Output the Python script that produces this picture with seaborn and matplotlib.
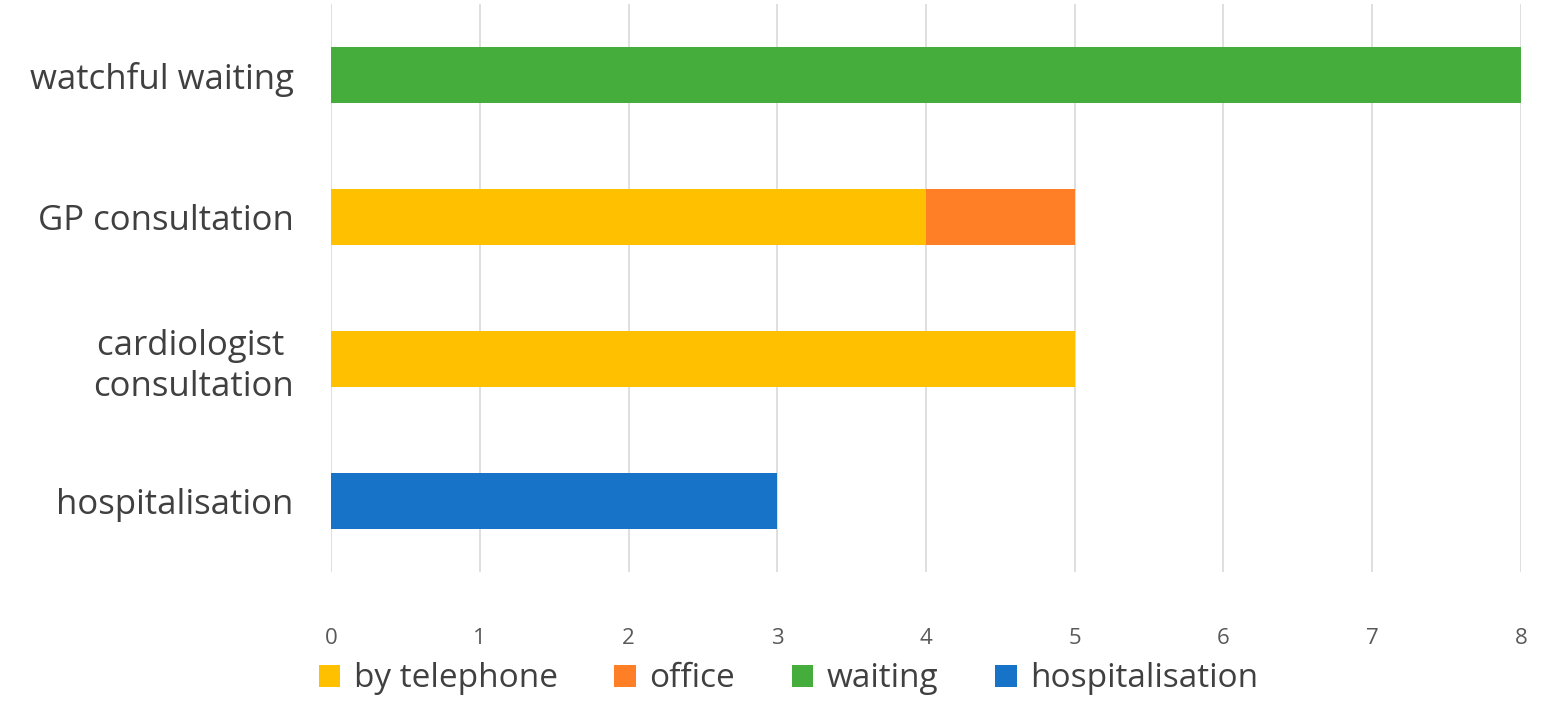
import numpy as np
import pandas as pd
import matplotlib
matplotlib.use("Agg")
import matplotlib.pyplot as plt
import seaborn as sns
from matplotlib.patches import Patch

# data
categories = ["watchful waiting", "GP consultation", "cardiologist \nconsultation", "hospitalisation"]
series = ["by telephone", "office", "waiting", "hospitalisation"]
telephone = [0, 4, 5, 0]
office = [0, 1, 0, 0]
waiting = [8, 0, 0, 0]
hospital = [0, 0, 0, 3]
colors = ["#FFC000", "#FF7F27", "#45AD3C", "#1673C8"]
xticks = [0, 1, 2, 3, 4, 5, 6, 7, 8]

sns.set_style("white")
plt.rcParams["font.family"] = ["Open Sans", "DejaVu Sans"]

values = np.array([telephone, office, waiting, hospital], dtype=float)
cum = values.cumsum(axis=0)

fig = plt.figure(figsize=(15.52, 7.17), dpi=100)
ax = fig.add_axes([0.2133, 0.2022, 0.7667, 0.7922])

# stacked bars: draw cumulative totals from the back to the front
for i in range(len(series) - 1, -1, -1):
    df = pd.DataFrame({"cat": categories, "val": cum[i]})
    sns.barplot(data=df, x="val", y="cat", orient="h", color=colors[i],
                width=0.39, saturation=1, ax=ax, order=categories,
                edgecolor="none")

ax.set_xlim(0, 8)
ax.set_ylim(3.5, -0.5)
ax.set_xticks(xticks)
ax.set_xlabel("")
ax.set_ylabel("")
ax.grid(axis="x", color="#d9d9d9", linewidth=1.2)
ax.grid(axis="y", visible=False)
ax.set_axisbelow(True)
for s in ax.spines.values():
    s.set_visible(False)
ax.tick_params(axis="x", length=0, pad=40, labelsize=16, labelcolor="#595959")
ax.tick_params(axis="y", length=0, pad=27, labelsize=25, labelcolor="#404040")
for t in ax.get_yticklabels():
    t.set_multialignment("right")
    t.set_linespacing(1.25)

handles = [Patch(facecolor=c, edgecolor="none") for c in colors]
leg = fig.legend(handles, series, loc="center", bbox_to_anchor=(0.508, 0.053),
                 ncol=4, frameon=False, fontsize=24, handlelength=0.65,
                 handleheight=0.65, handletextpad=0.4, columnspacing=1.7)
for t in leg.get_texts():
    t.set_color("#404040")

fig.savefig("out.png", dpi=100)
